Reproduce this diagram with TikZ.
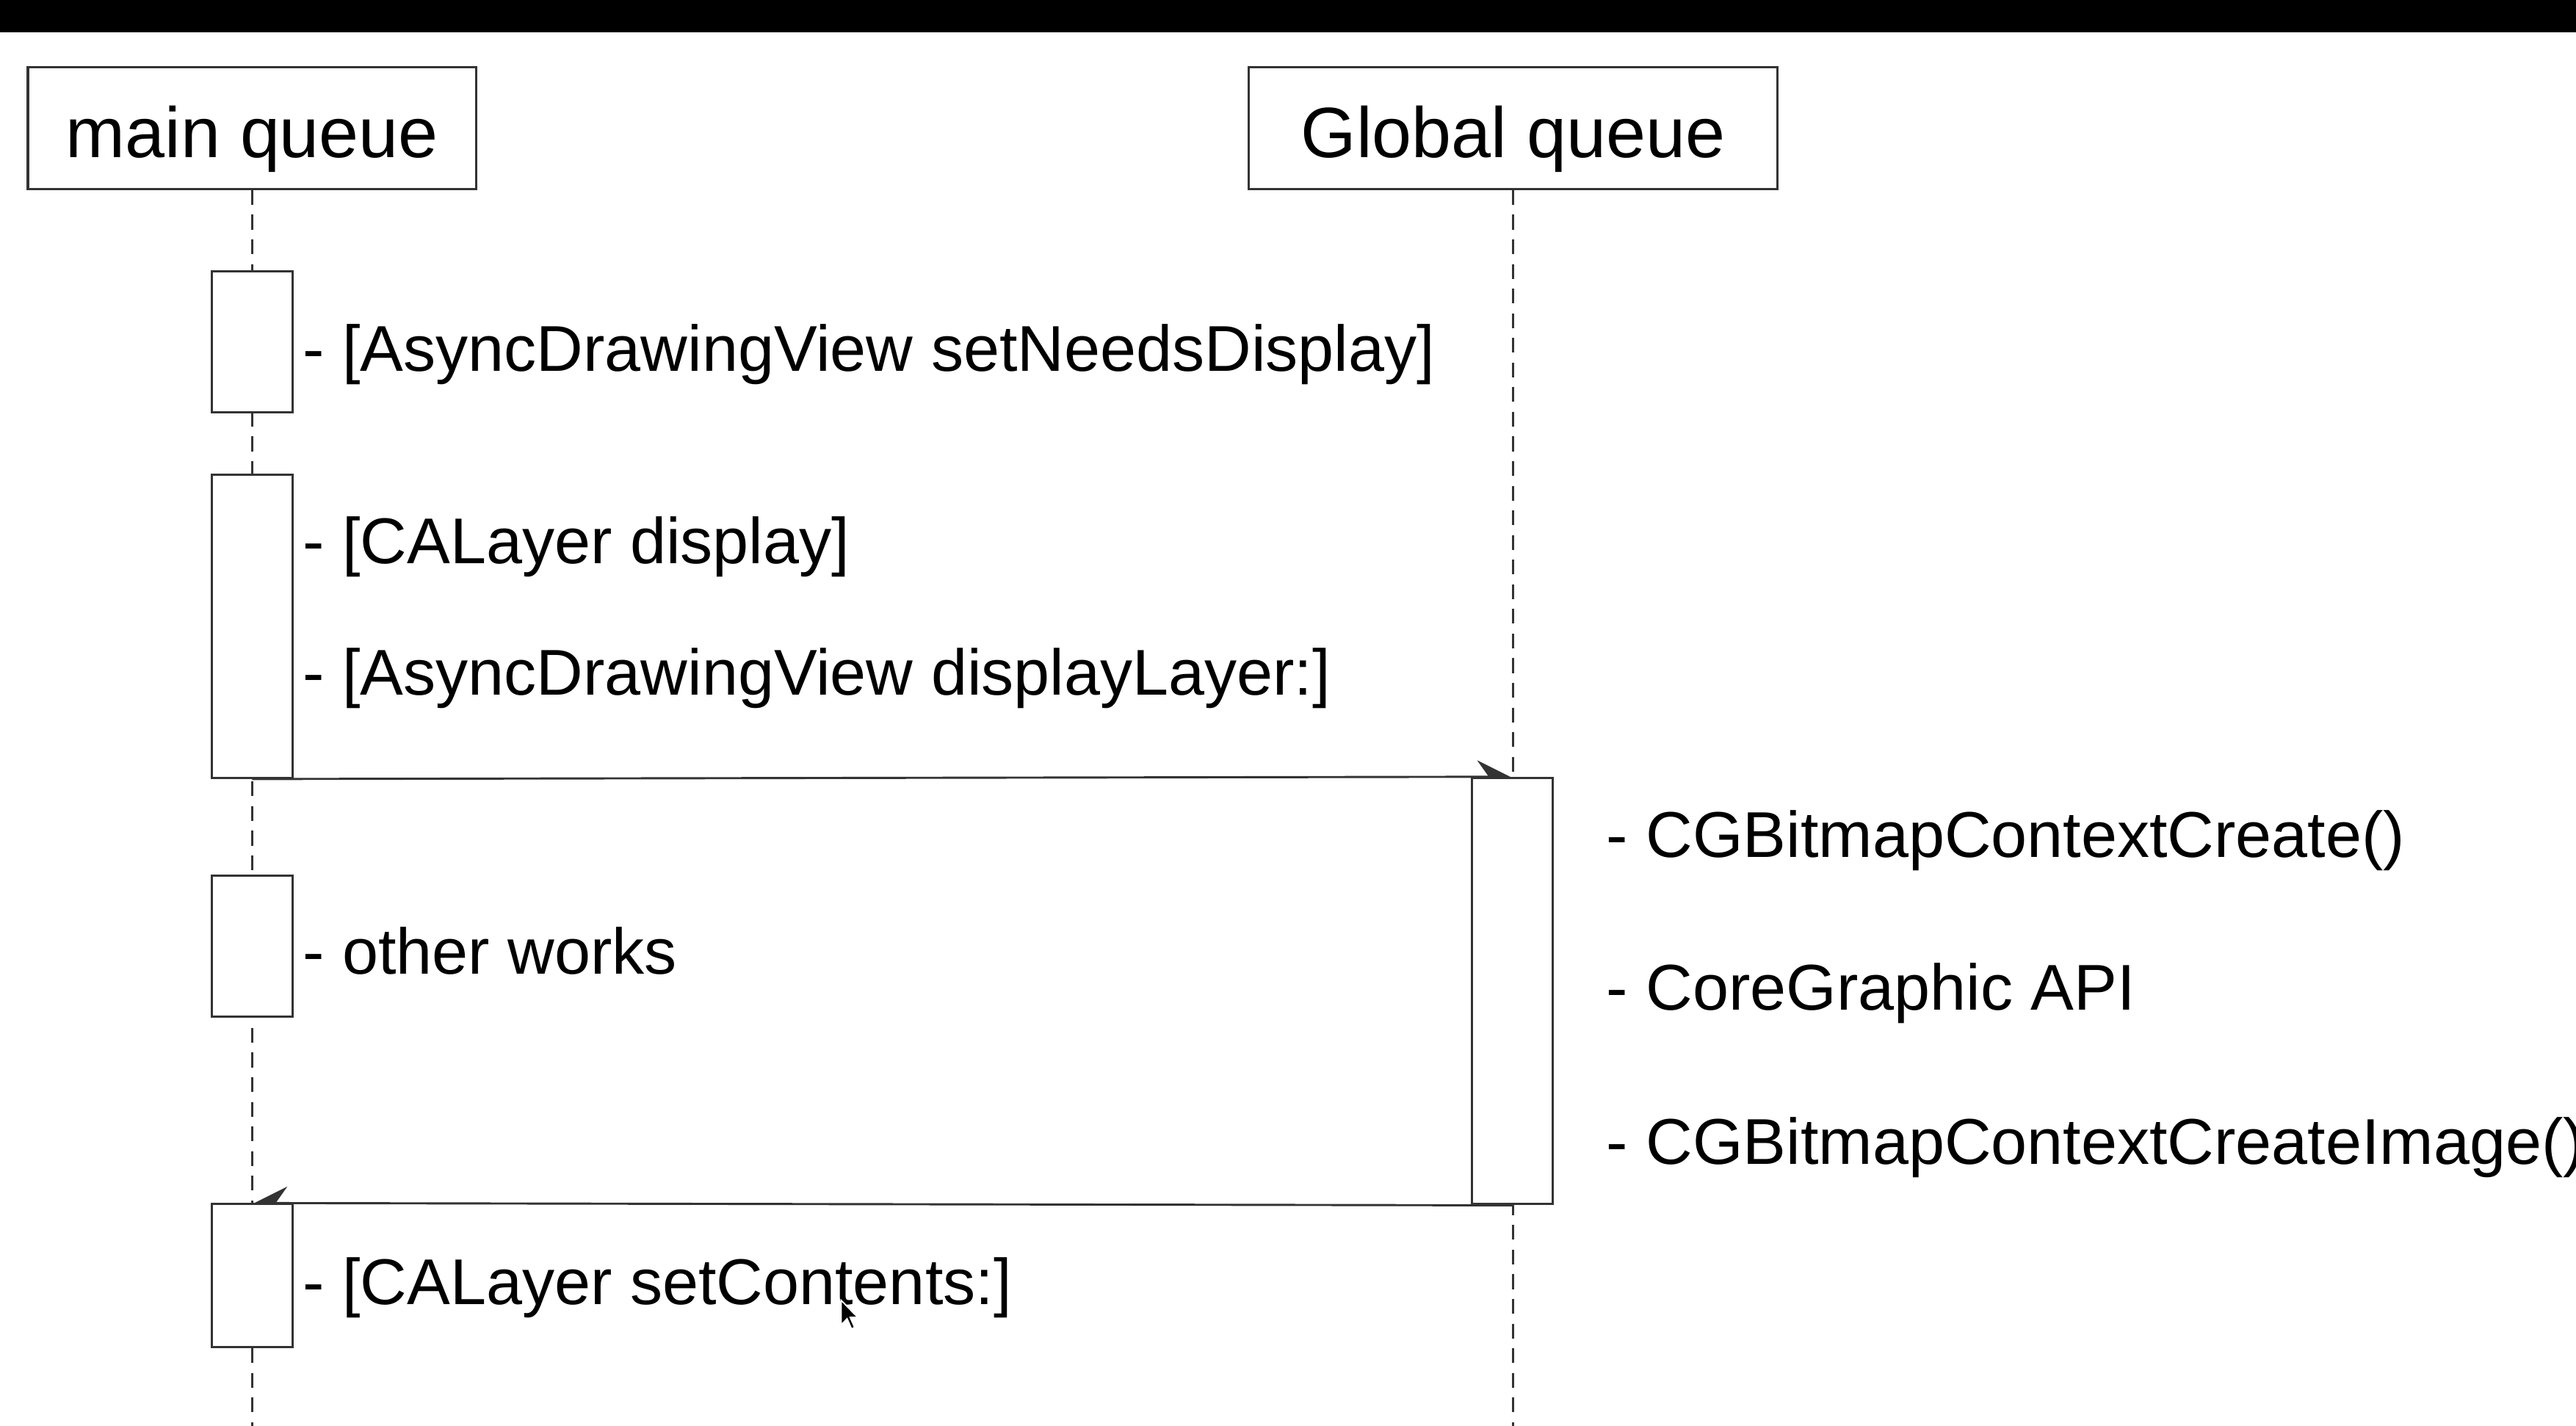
\documentclass[tikz,border=0pt]{standalone}
\usepackage{fontspec}
\setmainfont{Liberation Sans}
\usetikzlibrary{arrows.meta}
\definecolor{ln}{HTML}{333333}
\begin{document}
\begin{tikzpicture}[x=0.5pt,y=-0.5pt,
  hdr/.style={draw=ln, line width=0.7pt, fill=white, minimum height=37pt, inner sep=0pt,
    font=\fontsize{21.7pt}{26pt}\selectfont, text height=20pt, text depth=2pt},
  act/.style={draw=ln, line width=0.7pt, fill=white, minimum width=24.5pt, inner sep=0pt},
  life/.style={draw=ln, line width=0.6pt, dash pattern=on 4.5pt off 3pt},
  msg/.style={draw=ln, line width=0.65pt},
  tipr/.style={-{Stealth[harpoon,length=10pt,width=10pt,inset=3.5pt]}},
  tipl/.style={-{Stealth[harpoon,swap,length=10pt,width=10pt,inset=3.5pt]}},
  lbl/.style={anchor=base west, inner sep=0pt, font=\fontsize{19.7pt}{24pt}\selectfont}]
\useasboundingbox (0,0) rectangle (1568,868);
\fill[white] (0,0) rectangle (1568,868);
\fill[black] (0,0) rectangle (1568,19.5);

% headers
\node[hdr, minimum width=136.5pt] (mq) at (153.5,78) {main queue};
\node[hdr, minimum width=161pt] (gq) at (921,78) {Global queue};
\coordinate (mqend) at (153.5,868);
\coordinate (gqend) at (921,868);

% lifelines
\draw[life] (mq.south) -- (mqend);
\draw[life] (gq.south) -- (gqend);

% activation boxes
\node[act, minimum height=43pt] (a1) at (153.5,208) {};
\node[act, minimum height=92.25pt] (a2) at (153.5,381.25) {};
\node[act, minimum height=43pt] (a3) at (153.5,576) {};
\node[act, minimum height=43.5pt] (a4) at (153.5,776.5) {};
\node[act, minimum height=129.75pt] (g1) at (920.5,603.25) {};

% messages
\draw[msg, tipr] (a2.south) -- (g1.north);
\draw[msg, tipl] (g1.south) -- (a4.north);

% labels
\node[lbl] (l1) at (184,226) {- [AsyncDrawingView setNeedsDisplay]};
\node[lbl] (l2) at (184,343) {- [CALayer display]};
\node[lbl] (l3) at (184,423) {- [AsyncDrawingView displayLayer:]};
\node[lbl] (l4) at (184,593) {- other works};
\node[lbl] (l5) at (184,794) {- [CALayer setContents:]};
\node[lbl] (r1) at (977.5,522) {- CGBitmapContextCreate()};
\node[lbl] (r2) at (977.5,615) {- CoreGraphic API};
\node[lbl] (r3) at (977.5,708.5) {- CGBitmapContextCreateImage()};

% mouse pointer
\filldraw[fill=black, draw=white, line width=0.4pt] (512,791.5) -- ++(0,15) -- ++(3.6,-3.8) -- ++(2.7,6.2) -- ++(1.9,-0.9) -- ++(-2.7,-6.1) -- ++(4.6,0) -- cycle;
\end{tikzpicture}
\end{document}
